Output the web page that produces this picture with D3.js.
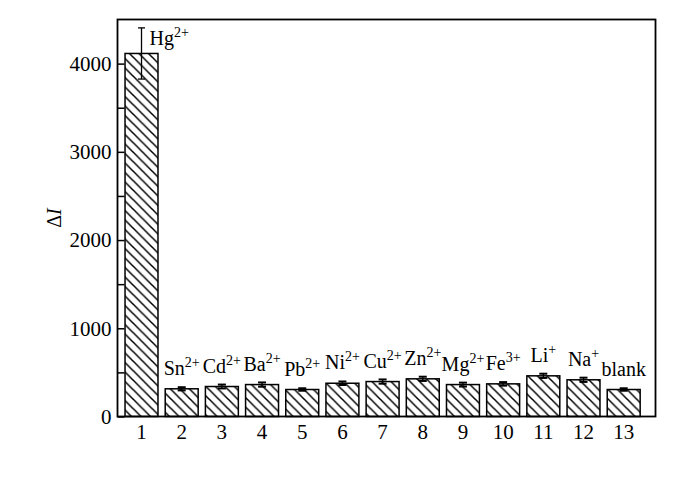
<!DOCTYPE html>
<html>
<head>
<meta charset="utf-8">
<script src="https://cdn.jsdelivr.net/npm/d3@7"></script>
<style>
  html, body { margin: 0; padding: 0; background: #fff; }
  svg text { font-family: "Liberation Serif", "Times New Roman", serif; fill: #000; }
</style>
</head>
<body>
<svg id="chart" width="700" height="481"></svg>
<script>
// ---- data ----
const categories = ["1","2","3","4","5","6","7","8","9","10","11","12","13"];
const ionBase    = ["Hg","Sn","Cd","Ba","Pb","Ni","Cu","Zn","Mg","Fe","Li","Na","blank"];
const ionCharge  = ["2+","2+","2+","2+","2+","2+","2+","2+","2+","3+","+","+",""];
const values     = [4115, 314, 340, 362, 306, 377, 396, 427, 362, 370, 461, 416, 306];
const errors     = [290, 18, 22, 24, 14, 20, 24, 24, 22, 20, 24, 24, 14];
const yMajorTicks = [0, 1000, 2000, 3000, 4000];
const yMinorTicks = [500, 1500, 2500, 3500];
const yLabel = "\u0394";
const yLabelItalic = "I";

// ---- layout ----
const frame = {left: 117.5, top: 19.5, right: 655.5, bottom: 416.5};
const svg = d3.select("#chart");
svg.append("rect").attr("width", 700).attr("height", 481).attr("fill", "#fff");

const defs = svg.append("defs");
const pat = defs.append("pattern")
  .attr("id", "hatch").attr("patternUnits", "userSpaceOnUse")
  .attr("width", 9.5).attr("height", 9.5);
pat.append("path")
  .attr("d", "M-1,-1 L10.5,10.5 M-1,8.5 L1,10.5 M8.5,-1 L10.5,1")
  .attr("stroke", "#000").attr("stroke-width", 1.5).attr("fill", "none");

const x = d3.scaleBand().domain(categories)
  .range([117, 648.2]).paddingInner(0.18).paddingOuter(0.2);
const y = d3.scaleLinear().domain([0, 4500]).range([frame.bottom, frame.top]);

const bw = x.bandwidth();

// bars
svg.append("g").selectAll("rect").data(values).join("rect")
  .attr("x", (d, i) => x(categories[i]))
  .attr("y", d => y(d))
  .attr("width", bw)
  .attr("height", d => y(0) - y(d))
  .attr("fill", "url(#hatch)")
  .attr("stroke", "#000").attr("stroke-width", 1.5);

// error bars
const eg = svg.append("g").attr("stroke", "#000");
values.forEach((v, i) => {
  const cx = x(categories[i]) + bw / 2;
  const cap = i === 0 ? 3.5 : 4;
  eg.append("line").attr("x1", cx).attr("x2", cx)
    .attr("y1", y(v - errors[i])).attr("y2", y(v + errors[i])).attr("stroke-width", 1.3);
  [v - errors[i], v + errors[i]].forEach(e => {
    eg.append("line").attr("x1", cx - cap).attr("x2", cx + cap)
      .attr("y1", y(e)).attr("y2", y(e)).attr("stroke-width", i === 0 ? 1.3 : 2);
  });
});

// axes
const fmt = d3.format("d");
const yAxis = d3.axisLeft(y).tickValues(yMajorTicks).tickFormat(fmt)
  .tickSizeInner(-7).tickSizeOuter(0).tickPadding(6);
const ya = svg.append("g").attr("transform", `translate(${frame.left},0)`).call(yAxis);
ya.attr("font-family", null);
ya.select(".domain").remove();
ya.selectAll(".tick line").attr("stroke", "#000").attr("stroke-width", 1.5);
ya.selectAll(".tick text").attr("font-size", 21).style("font-family", "Liberation Serif");

const yMinor = d3.axisLeft(y).tickValues(yMinorTicks).tickSizeInner(-7).tickSizeOuter(0).tickFormat("");
const ym = svg.append("g").attr("transform", `translate(${frame.left},0)`).call(yMinor);
ym.select(".domain").remove();
ym.selectAll(".tick line").attr("stroke", "#000").attr("stroke-width", 1.5);

const xAxis = d3.axisBottom(x).tickSize(0).tickPadding(8);
const xa = svg.append("g").attr("transform", `translate(0,${frame.bottom})`).call(xAxis);
xa.attr("font-family", null);
xa.select(".domain").remove();
xa.selectAll(".tick text").attr("font-size", 21).style("font-family", "Liberation Serif");

// frame
svg.append("rect")
  .attr("x", frame.left).attr("y", frame.top)
  .attr("width", frame.right - frame.left).attr("height", frame.bottom - frame.top)
  .attr("fill", "none").attr("stroke", "#000").attr("stroke-width", 1.8);

// ion labels
const lg = svg.append("g");
values.forEach((v, i) => {
  const cx = x(categories[i]) + bw / 2;
  let t;
  if (i === 0) {
    t = lg.append("text").attr("x", cx + 8).attr("y", y(v + errors[i]) + 17)
      .attr("text-anchor", "start").attr("font-size", 20);
  } else {
    t = lg.append("text").attr("x", cx).attr("y", y(v) - 14)
      .attr("text-anchor", "middle").attr("font-size", 20);
  }
  t.append("tspan").text(ionBase[i]);
  if (ionCharge[i]) {
    t.append("tspan").attr("font-size", 14).attr("dy", -8).text(ionCharge[i]);
  }
});

// y label
const yl = svg.append("text")
  .attr("transform", `translate(61,${(frame.top + frame.bottom) / 2}) rotate(-90)`)
  .attr("text-anchor", "middle").attr("font-size", 20);
yl.append("tspan").text(yLabel);
yl.append("tspan").attr("font-style", "italic").text(yLabelItalic);
</script>
</body>
</html>
